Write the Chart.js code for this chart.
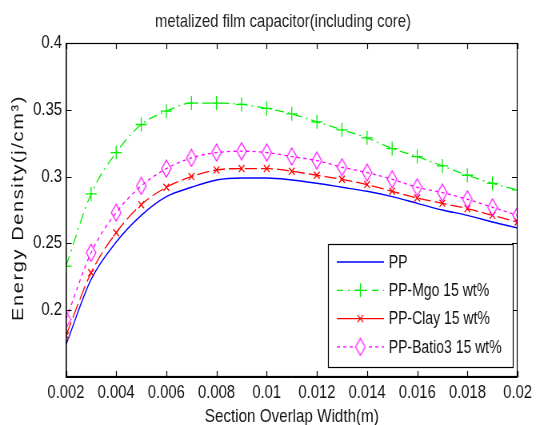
<!DOCTYPE html>
<html>
<head>
<meta charset="utf-8">
<script src="https://cdn.jsdelivr.net/npm/chart.js@4/dist/chart.umd.min.js"></script>
<style>
  html, body { margin: 0; padding: 0; background: #fff; }
  /* the original figure is squeezed sideways, so draw wide and show it narrower */
  #chart { display: block; }
</style>
</head>
<body>
<canvas id="chart" width="670" height="425" style="width:536px;height:425px"></canvas>
<script>
// overlap widths (m)
const overlapWidths = [0.002, 0.003, 0.004, 0.005, 0.006, 0.007, 0.008, 0.009, 0.010, 0.011,
                       0.012, 0.013, 0.014, 0.015, 0.016, 0.017, 0.018, 0.019, 0.020];

// energy density (j/cm3)
const ppValues    = [0.174, 0.223, 0.251, 0.271, 0.285, 0.292, 0.2975, 0.299, 0.299, 0.2975,
                     0.295, 0.292, 0.289, 0.285, 0.280, 0.275, 0.271, 0.266, 0.2615];
const mgoValues   = [0.233, 0.287, 0.318, 0.339, 0.349, 0.355, 0.355, 0.354, 0.351, 0.347,
                     0.341, 0.335, 0.329, 0.321, 0.315, 0.308, 0.301, 0.295, 0.290];
const clayValues  = [0.181, 0.228, 0.258, 0.279, 0.292, 0.300, 0.305, 0.306, 0.306, 0.304,
                     0.301, 0.298, 0.294, 0.289, 0.284, 0.280, 0.276, 0.271, 0.266];
const batioValues = [0.193, 0.243, 0.273, 0.293, 0.306, 0.314, 0.318, 0.319, 0.318, 0.315,
                     0.312, 0.307, 0.303, 0.298, 0.292, 0.288, 0.283, 0.277, 0.271];

const seriesNames = ['PP', 'PP-Mgo 15 wt%', 'PP-Clay 15 wt%', 'PP-Batio3 15 wt%'];
const chartTitle = 'metalized film capacitor(including core)';

const xMin = 0.002, xMax = 0.02, xStep = 0.002;
const yMin = 0.15, yMax = 0.4, yStep = 0.05;

const sans = '"Liberation Sans", Arial, Helvetica, sans-serif';

// tall thin diamond marker
function makeDiamond(color) {
    const c = document.createElement('canvas');
    c.width = 14; c.height = 19;
    const g = c.getContext('2d');
    g.strokeStyle = color;
    g.lineWidth = 1.2;
    g.beginPath();
    g.moveTo(7, 1); g.lineTo(13, 9.5); g.lineTo(7, 18); g.lineTo(1, 9.5); g.closePath();
    g.stroke();
    return c;
}
const diamond = makeDiamond('#ff00ff');

function toPoints(values) {
    return values.map((v, i) => ({ x: overlapWidths[i], y: v }));
}

const styles = [
    { color: '#0000ff', dash: [], legendDash: [], point: false, width: 1.4 },
    { color: '#00ee00', dash: [11, 5, 2, 5], legendDash: [8, 6, 2, 6], point: 'cross', radius: 7, width: 1.3 },
    { color: '#ff0000', dash: [15, 5], legendDash: [], point: 'crossRot', radius: 5, width: 1.3 },
    { color: '#ff00ff', dash: [4, 4], legendDash: [4, 4], point: diamond, radius: 8, width: 1.3 }
];

const allValues = [ppValues, mgoValues, clayValues, batioValues];

const datasets = allValues.map((vals, i) => ({
    label: seriesNames[i],
    data: toPoints(vals),
    borderColor: styles[i].color,
    backgroundColor: styles[i].color,
    borderWidth: styles[i].width,
    borderDash: styles[i].dash,
    pointStyle: styles[i].point || 'circle',
    pointRadius: styles[i].point ? styles[i].radius : 0,
    pointBorderWidth: 1.3,
    pointBorderColor: styles[i].color,
    pointBackgroundColor: 'rgba(0,0,0,0)',
    cubicInterpolationMode: 'monotone',
    tension: 0.4
})).reverse();

// title, box round the plot, inward ticks, y title, legend inside the plot
const matlabFrame = {
    id: 'matlabFrame',
    afterDraw(chart) {
        const ctx = chart.ctx;
        const a = chart.chartArea;
        const xs = chart.scales.x, ys = chart.scales.y;
        ctx.save();

        ctx.font = '18.5px ' + sans;
        ctx.fillStyle = '#222';
        ctx.textAlign = 'center';
        ctx.textBaseline = 'middle';
        ctx.fillText(chartTitle, (a.left + a.right) / 2 - 11, 22);
        ctx.textAlign = 'left';

        ctx.strokeStyle = '#000';
        ctx.lineWidth = 1.2;
        ctx.strokeRect(a.left + 0.5, a.top + 0.5, a.right - a.left - 1, a.bottom - a.top - 1);
        ctx.beginPath();
        xs.ticks.forEach(t => {
            const px = Math.round(xs.getPixelForValue(t.value)) + 0.5;
            ctx.moveTo(px, a.bottom); ctx.lineTo(px, a.bottom - 6);
            ctx.moveTo(px, a.top); ctx.lineTo(px, a.top + 6);
        });
        ys.ticks.forEach(t => {
            const py = Math.round(ys.getPixelForValue(t.value)) + 0.5;
            ctx.moveTo(a.left, py); ctx.lineTo(a.left + 7, py);
            ctx.moveTo(a.right, py); ctx.lineTo(a.right - 7, py);
        });
        ctx.stroke();

        // y axis title, spread out a little like the original
        ctx.save();
        ctx.translate(23, (a.top + a.bottom) / 2 - 2);
        ctx.rotate(-Math.PI / 2);
        ctx.font = '20px ' + sans;
        ctx.letterSpacing = '1.6px';
        ctx.fillStyle = '#111';
        ctx.textAlign = 'center';
        ctx.textBaseline = 'middle';
        ctx.fillText('Energy Density(j/cm³)', 0, 0);
        ctx.restore();

        // legend
        const bw = 231, bh = 123;
        const bx = a.right - 6 - bw, by = a.bottom - 10 - bh;
        ctx.fillStyle = '#fff';
        ctx.fillRect(bx, by, bw, bh);
        ctx.lineWidth = 1.2;
        ctx.strokeRect(bx + 0.5, by + 0.5, bw, bh);
        ctx.font = '17.5px ' + sans;
        ctx.textBaseline = 'middle';
        seriesNames.forEach((name, i) => {
            const s = styles[i];
            const cy = by + 18 + i * 28.3;
            ctx.strokeStyle = s.color;
            ctx.lineWidth = s.width;
            ctx.setLineDash(s.legendDash);
            ctx.beginPath();
            ctx.moveTo(bx + 11, cy); ctx.lineTo(bx + 70, cy);
            ctx.stroke();
            ctx.setLineDash([]);
            const mx = bx + 40.5;
            ctx.lineWidth = 1.3;
            ctx.beginPath();
            if (s.point === 'cross') {
                ctx.moveTo(mx - 7, cy); ctx.lineTo(mx + 7, cy);
                ctx.moveTo(mx, cy - 7); ctx.lineTo(mx, cy + 7);
                ctx.stroke();
            } else if (s.point === 'crossRot') {
                ctx.moveTo(mx - 3.5, cy - 3.5); ctx.lineTo(mx + 3.5, cy + 3.5);
                ctx.moveTo(mx - 3.5, cy + 3.5); ctx.lineTo(mx + 3.5, cy - 3.5);
                ctx.stroke();
            } else if (s.point) {
                ctx.fillStyle = '#fff';
                ctx.fillRect(mx - 7, cy - 9.5, 14, 19);
                ctx.drawImage(s.point, mx - 7, cy - 9.5);
            }
            ctx.fillStyle = '#111';
            ctx.fillText(name, bx + 76, cy + 1);
        });
        ctx.restore();
    }
};

new Chart(document.getElementById('chart'), {
    type: 'line',
    data: { datasets: datasets },
    plugins: [matlabFrame],
    options: {
        responsive: false,
        animation: false,
        layout: { padding: { top: 43, right: 22, left: 0, bottom: 0 } },
        plugins: {
            legend: { display: false },
            tooltip: { enabled: false },
            title: { display: false }
        },
        scales: {
            x: {
                type: 'linear',
                min: xMin,
                max: xMax,
                afterFit(scale) { scale.height = 48; },
                grid: { display: false, drawTicks: false },
                border: { display: true, color: '#000' },
                ticks: {
                    stepSize: xStep,
                    color: '#111',
                    padding: 5,
                    maxRotation: 0,
                    autoSkip: false,
                    font: { family: sans, size: 18.5 },
                    callback: v => String(+v.toFixed(3))
                },
                title: {
                    display: true,
                    text: 'Section Overlap Width(m)',
                    color: '#111',
                    font: { family: sans, size: 19 },
                    padding: { top: 0, bottom: -3 }
                }
            },
            y: {
                type: 'linear',
                min: yMin,
                max: yMax,
                afterFit(scale) { scale.width = 82.5; },
                grid: { display: false, drawTicks: false },
                border: { display: true, color: '#000' },
                ticks: {
                    stepSize: yStep,
                    color: '#111',
                    padding: 5,
                    font: { family: sans, size: 18.5 },
                    callback: v => Math.abs(v - yMin) < 1e-9 ? '' : String(+v.toFixed(3))
                }
            }
        }
    }
});
</script>
</body>
</html>
